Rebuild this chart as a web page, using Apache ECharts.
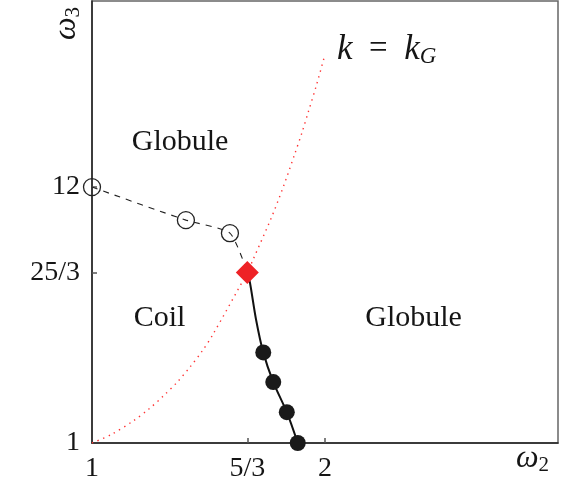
<!DOCTYPE html>
<html>
<head>
<meta charset="utf-8">
<script src="https://cdn.jsdelivr.net/npm/echarts@6/dist/echarts.min.js"></script>
<style>html,body{margin:0;padding:0;background:#fff}#c{width:563px;height:489px}</style>
</head>
<body>
<div id="c"></div>
<script>
// k = k_G boundary (red dotted)
const kgX = [1, 1.082, 1.177, 1.243, 1.306, 1.366, 1.421, 1.472, 1.518, 1.6667, 1.692, 1.770, 1.821, 1.867, 1.903, 1.928, 1.961, 2.0];
const kgY = [1, 1.36, 1.95, 2.45, 3.02, 3.62, 4.27, 4.94, 5.65, 8.333, 8.90, 10.69, 12.01, 13.33, 14.40, 15.22, 16.30, 17.7];
// open circles (dashed line)
const openX = [1, 1.403, 1.592];
const openY = [12, 10.58, 10.02];
// special point (red diamond)
const tripleX = [5/3];
const tripleY = [25/3];
// solid line path and filled circles
const solidX = [5/3, 1.678, 1.704, 1.735, 1.778, 1.836, 1.883];
const solidY = [25/3, 7.89, 6.31, 4.895, 3.617, 2.324, 1.0];
const fillX = [1.735, 1.778, 1.836, 1.883];
const fillY = [4.895, 3.617, 2.324, 1.0];
// tick labels
const xTicks = [1, 5/3, 2];
const xTickLabels = ['1', '5/3', '2'];
const yTicks = [1, 25/3, 12];
const yTickLabels = ['1', '25/3', '12'];
const regionLabels = [
  {text: 'Globule', x: 1.378, y: 13.95},
  {text: 'Coil', x: 1.29, y: 6.35},
  {text: 'Globule', x: 2.38, y: 6.35}
];

const zip = (a, b) => a.map((v, i) => [v, b[i]]);
const FONT = 'Liberation Serif';
const TXT = '#151515';
function lab(vals, labels) {
  return v => { for (let i = 0; i < vals.length; i++) if (Math.abs(vals[i] - v) < 1e-6) return labels[i]; return ''; };
}

const chart = echarts.init(document.getElementById('c'));
chart.setOption({
  animation: false,
  grid: {left: 92, right: 5, top: 1, bottom: 46, show: true, borderColor: '#666', borderWidth: 1.5},
  xAxis: {
    type: 'value', min: 1, max: 3,
    splitLine: {show: false},
    axisLine: {lineStyle: {color: '#222', width: 1.5}},
    axisTick: {show: true, inside: true, length: 5, customValues: [5/3, 2], lineStyle: {color: '#555', width: 1.5}},
    axisLabel: {customValues: xTicks, formatter: lab(xTicks, xTickLabels), fontFamily: FONT, fontSize: 28, color: TXT, margin: 12}
  },
  yAxis: {
    type: 'value', min: 1, max: 20,
    splitLine: {show: false},
    axisLine: {lineStyle: {color: '#222', width: 1.5}},
    axisTick: {show: true, inside: true, length: 5, customValues: [25/3, 12], lineStyle: {color: '#555', width: 1.5}},
    axisLabel: {customValues: yTicks, formatter: lab(yTicks, yTickLabels), fontFamily: FONT, fontSize: 28, color: TXT, margin: 12}
  },
  series: [
    {type: 'line', data: zip(kgX, kgY), smooth: 0.3, showSymbol: false, symbol: 'none',
      lineStyle: {color: '#f33', width: 1.4, type: [1.4, 4.6]}, z: 1},
    {type: 'line', data: zip(openX.concat(tripleX), openY.concat(tripleY)), smooth: 0.2, symbol: 'none',
      lineStyle: {color: '#222', width: 1.1, type: [6, 6]}, z: 2},
    {type: 'scatter', data: zip(openX, openY), symbol: 'circle', symbolSize: 17,
      itemStyle: {color: 'rgba(255,255,255,0)', borderColor: '#222', borderWidth: 1.3, opacity: 1}, z: 3},
    {type: 'line', data: zip(solidX, solidY), smooth: 0.3, symbol: 'none',
      lineStyle: {color: '#111', width: 2}, z: 2},
    {type: 'scatter', data: zip(fillX, fillY), symbol: 'circle', symbolSize: 16,
      itemStyle: {color: '#1a1a1a', opacity: 1}, z: 3},
    {type: 'scatter', data: zip(tripleX, tripleY), symbol: 'diamond', symbolSize: 23,
      itemStyle: {color: '#ee2226', opacity: 1}, z: 4},
    {type: 'scatter', data: regionLabels.map(r => ({value: [r.x, r.y], label: {formatter: r.text}})),
      symbolSize: 0, silent: true, itemStyle: {opacity: 1},
      label: {show: true, position: 'inside', fontFamily: FONT, fontSize: 30, color: TXT}, z: 5}
  ],
  graphic: [
    {type: 'text', left: 337, top: 32, style: {
      text: '{i|k}{n|  =  }{i|k}{s|G}', fill: TXT,
      rich: {i: {fontFamily: FONT, fontStyle: 'italic', fontSize: 35, fill: TXT},
             n: {fontFamily: FONT, fontSize: 33, fill: TXT},
             s: {fontFamily: FONT, fontStyle: 'italic', fontSize: 23, fill: TXT, padding: [15, 0, 0, 0]}}}},
    {type: 'text', left: 516, top: 443, style: {
      text: '{i|ω}{s|2}', fill: TXT,
      rich: {i: {fontFamily: FONT, fontStyle: 'italic', fontSize: 32, fill: TXT},
             s: {fontFamily: FONT, fontSize: 21, fill: TXT, padding: [13, 0, 0, 0]}}}},
    {type: 'text', x: 50, y: 40, rotation: Math.PI / 2, style: {
      text: '{i|ω}{s|3}', fill: TXT,
      rich: {i: {fontFamily: FONT, fontStyle: 'italic', fontSize: 32, fill: TXT},
             s: {fontFamily: FONT, fontSize: 21, fill: TXT, padding: [13, 0, 0, 0]}}}}
  ]
});
</script>
</body>
</html>
